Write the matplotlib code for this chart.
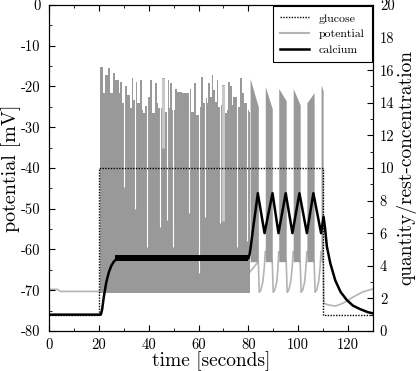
import matplotlib.pyplot as plt
from matplotlib.lines import Line2D
from matplotlib.ticker import MultipleLocator

plt.rcParams['font.family'] = 'serif'
plt.rcParams['font.serif'] = ['cmr10']
plt.rcParams['mathtext.fontset'] = 'cm'
plt.rcParams['axes.unicode_minus'] = False

# glucose stimulus (right axis)
glucose_t = [0, 20, 20, 110, 110, 130]
glucose_v = [1, 1, 10, 10, 1, 1]

# calcium (right axis)
calcium_t = [0, 20.8, 21.3, 22, 23, 24, 25, 26, 27, 28, 80, 80.5, 81, 82, 83, 83.8,
             86.5, 89.7, 92.1, 95.0, 97.7, 100.5, 103.5, 106.1, 109.2, 110.2,
             110.8, 111.5, 112.9, 114.9, 117, 119.5, 122, 125, 128, 130]
calcium_v = [1, 1, 1.3, 2.1, 3.0, 3.6, 4.0, 4.25, 4.4, 4.45, 4.45, 4.7, 5.2, 6.4, 7.5, 8.45,
             6.0, 8.45, 6.0, 8.45, 6.0, 8.45, 6.0, 8.45, 6.0, 7.0,
             6.3, 5.2, 4.15, 3.1, 2.4, 1.9, 1.55, 1.33, 1.15, 1.08]
# noisy calcium plateau
band_t = [26.5, 80]
band_lo = [4.3, 4.3]
band_hi = [4.65, 4.65]

# membrane potential: rest before glucose
rest_t = [0, 3.5, 4.5, 20.3]
rest_v = [-69.8, -69.8, -70.3, -70.3]

# continuous spiking 20-80 s: top of spike envelope (step)
spike_t = [20.3, 20.5, 21.8, 22.5, 23.8, 24.5, 25.8, 26.5, 27.9, 28.5, 29.2, 29.9,
           30.5, 31.2, 32.5, 33.2, 33.9, 34.5, 35.5, 36.5, 37.2, 37.9, 38.6, 39.2,
           40.6, 41.2, 42.6, 43.2, 43.9, 45.2, 45.9, 46.6, 47.3, 48.0, 48.6, 49.3,
           50.6, 51.3, 53.3, 55.3, 56.0, 56.9, 58.2, 58.9, 60.0, 60.9, 62.0, 62.7,
           63.3, 64.0, 64.7, 65.3, 66.0, 66.7, 67.3, 68.0, 68.7, 69.6, 70.7, 71.4,
           72.0, 72.7, 73.4, 74.0, 75.4, 76.7, 77.4, 78.1, 79.4, 80.1, 80.7]
spike_top = [-19.5, -15.1, -21.7, -17.2, -15.5, -21.7, -16.8, -18.4, -21.7, -18.8, -24.1, -27.4,
             -20.0, -22.1, -25.4, -18.0, -23.3, -18.8, -24.1, -18.4, -25.8, -26.6, -24.9, -22.5,
             -18.4, -26.6, -19.2, -24.1, -25.4, -18.0, -18.0, -26.2, -18.4, -25.4, -19.2, -25.8,
             -20.5, -21.4, -21.5, -21.5, -20.5, -26.2, -19.2, -27.0, -25.0, -17.6, -24.1, -22.9,
             -24.1, -19.2, -22.5, -17.2, -20.9, -23.7, -18.4, -25.0, -24.5, -19.6, -26.6, -25.8,
             -18.8, -20.0, -24.5, -22.5, -25.0, -18.0, -21.7, -24.1, -25.8, -26.2, -26.2]
spike_low = -70.8

# white gaps between spikes (time, lowest point)
gap_t = [29.9, 34.5, 39.2, 44.6, 47.3, 49.6, 56.0, 60.0, 62.7, 68.7, 75.4, 79.4]
gap_bottom = [-44.6, -50.0, -59.3, -54.4, -52.8, -59.3, -51.1, -65.9, -52.0, -53.6, -59.3, -58.0]

# lighter (sparser) columns
light_t = [45.6, 69.9]
light_top = [-18.0, -19.6]
light_bottom = [-35.0, -53.0]

# bursts 80-110 s
burst_start = [80.7, 86.8, 92.2, 98.0, 103.5, 109.2]
burst_end = [84.0, 89.6, 95.2, 100.8, 106.4, 110.0]
burst_peak = [-18.0, -20.0, -20.5, -20.5, -24.0, -19.6]
burst_tail = [-25.0, -25.5, -23.5, -24.5, -21.5, -21.0]
burst_low = -63

# silent phases between bursts
silent_t = [80.0, 84.0, 84.4, 85.0, 85.8, 86.4, 86.8, 89.6, 90.0, 90.6, 91.4, 91.9, 92.2,
            95.2, 95.6, 96.2, 97.0, 97.6, 98.0, 100.8, 101.2, 101.8, 102.6, 103.1, 103.5,
            106.4, 106.8, 107.4, 108.2, 108.8, 109.2]
silent_v = [-66, -63, -70.5, -70.0, -68.0, -64.5, -60.5, -63, -70.5, -70.0, -68.0, -64.5, -60.5,
            -63, -70.5, -70.0, -68.0, -64.5, -60.5, -63, -70.5, -70.0, -68.0, -64.5, -60.5,
            -63, -70.5, -70.0, -68.0, -64.5, -60.5]

# after glucose removal
post_t = [110.0, 110.3, 112, 115, 118, 122, 126, 130]
post_v = [-63, -73.2, -73.6, -73.9, -73.2, -71.7, -70.4, -69.7]

dark = '#999999'
light = '#b4b4b4'

fig = plt.figure(figsize=(4.19, 3.71), dpi=100)
ax = fig.add_axes([0.117, 0.108, 0.773, 0.8785])

ax.plot(rest_t, rest_v, color=light, lw=1.2, zorder=1)
ax.plot(silent_t, silent_v, color=light, lw=1.2, zorder=1)
ax.plot(post_t, post_v, color=light, lw=1.2, zorder=1)
ax.fill_between(spike_t, spike_low, spike_top, step='post', color=dark, lw=0, zorder=1)
ax.vlines(light_t, light_bottom, light_top, color='#c8c8c8', lw=2.2, zorder=2)
ax.vlines(gap_t, gap_bottom, -10, color='white', lw=0.8, zorder=2)
for s, e, p, tl in zip(burst_start, burst_end, burst_peak, burst_tail):
    ax.fill_between([s, e], burst_low, [p, tl], color=dark, lw=0, zorder=1)

ax.set_xlim(0, 130)
ax.set_ylim(-80, 0)
ax.xaxis.set_major_locator(MultipleLocator(20))
ax.xaxis.set_minor_locator(MultipleLocator(10))
ax.yaxis.set_major_locator(MultipleLocator(10))
ax.yaxis.set_minor_locator(MultipleLocator(5))
ax.tick_params(which='both', direction='in', top=True, labelsize=10.5)
ax.tick_params(axis='y', pad=6)
ax.tick_params(axis='x', pad=5)
ax.tick_params(which='major', length=4)
ax.tick_params(which='minor', length=2)
ax.set_xlabel('time [seconds]', fontsize=14, labelpad=0)
ax.set_ylabel('potential [mV]', fontsize=14.5, labelpad=0)

ax2 = ax.twinx()
ax2.plot(glucose_t, glucose_v, color='black', lw=1.0, ls=(0, (1, 1)), zorder=3)
ax2.fill_between(band_t, band_lo, band_hi, color='black', lw=0, zorder=4)
ax2.plot(calcium_t, calcium_v, color='black', lw=1.8, zorder=4)
ax2.set_ylim(0, 20)
ax2.yaxis.set_major_locator(MultipleLocator(2))
ax2.yaxis.set_minor_locator(MultipleLocator(1))
ax2.tick_params(which='both', direction='in', labelsize=10.5, pad=5)
ax2.tick_params(which='major', length=4)
ax2.tick_params(which='minor', length=2)
ax2.set_ylabel('quantity/rest-concentration', fontsize=14, labelpad=1)

handles = [Line2D([], [], color='black', lw=1.0, ls=(0, (1, 1))),
           Line2D([], [], color=light, lw=1.5),
           Line2D([], [], color='black', lw=1.8)]
leg = ax2.legend(handles, ['glucose', 'potential', 'calcium'], loc='upper right',
                 fontsize=8.5, fancybox=False, framealpha=1, edgecolor='black',
                 borderaxespad=0.1, handlelength=2.5, labelspacing=0.45,
                 borderpad=0.6)
leg.get_frame().set_linewidth(0.8)

fig.savefig('out.png', dpi=100)
